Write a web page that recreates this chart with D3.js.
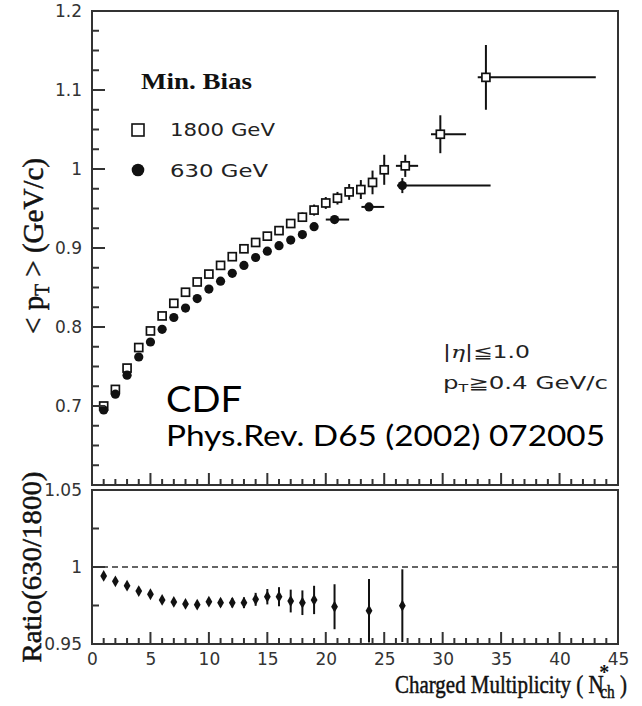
<!DOCTYPE html>
<html><head><meta charset="utf-8">
<script src="https://cdn.jsdelivr.net/npm/d3@7"></script>
<style>html,body{margin:0;padding:0;background:#fff;} svg{display:block}</style>
</head><body>
<svg id="c" width="642" height="706"></svg>
<script>
// ---------- data ----------
const nch1800 = [1,2,3,4,5,6,7,8,9,10,11,12,13,14,15,16,17,18,19,20,21,22,23,24,25,26.8,29.8,33.7];
const pt1800  = [0.700,0.721,0.748,0.774,0.795,0.814,0.830,0.844,0.857,0.867,0.878,0.889,0.899,0.907,0.915,0.922,0.931,0.939,0.948,0.957,0.963,0.971,0.974,0.983,0.999,1.004,1.044,1.116];
const err1800 = [0.001,0.001,0.001,0.001,0.001,0.001,0.001,0.001,0.002,0.002,0.002,0.002,0.002,0.003,0.003,0.004,0.005,0.006,0.007,0.0075,0.008,0.010,0.012,0.015,0.019,0.014,0.024,0.041];
const xlo1800 = [null,null,null,null,null,null,null,null,null,null,null,null,null,null,null,null,null,null,null,null,null,null,null,null,null,26.0,29.0,33.0];
const xhi1800 = [null,null,null,null,null,null,null,null,null,null,null,null,null,null,null,null,null,null,null,null,null,null,null,null,null,27.9,32.0,43.1];

const nch630 = [1,2,3,4,5,6,7,8,9,10,11,12,13,14,15,16,17,18,19,20.75,23.7,26.55];
const pt630  = [0.695,0.715,0.739,0.762,0.781,0.797,0.812,0.824,0.836,0.848,0.858,0.868,0.878,0.888,0.896,0.903,0.910,0.917,0.927,0.936,0.952,0.979];
const err630 = [0.001,0.001,0.001,0.001,0.001,0.001,0.001,0.001,0.001,0.001,0.001,0.001,0.002,0.002,0.002,0.002,0.002,0.003,0.003,0.004,0.005,0.0095];
const xlo630 = [null,null,null,null,null,null,null,null,null,null,null,null,null,null,null,null,null,null,null,20.0,23.05,26.1];
const xhi630 = [null,null,null,null,null,null,null,null,null,null,null,null,null,null,null,null,null,null,null,22.0,25.0,34.1];

const nchRatio = [1,2,3,4,5,6,7,8,9,10,11,12,13,14,15,16,17,18,19,20.75,23.7,26.55];
const ratio    = [0.9942,0.9907,0.9879,0.9844,0.9823,0.9786,0.9773,0.9760,0.9755,0.9775,0.9768,0.9768,0.9768,0.9790,0.9807,0.9807,0.9779,0.9768,0.9786,0.9742,0.9716,0.9749];
const ratioErr = [0.0005,0.0006,0.0007,0.0008,0.0009,0.0010,0.0012,0.0013,0.0015,0.0022,0.0025,0.0030,0.0035,0.0042,0.0050,0.0062,0.0074,0.0080,0.0092,0.0146,0.0206,0.0236];

const xTickVals = [0,5,10,15,20,25,30,35,40,45];
const xTickLabels = ["0","5","10","15","20","25","30","35","40","45"];
const xMinorVals = [1,2,3,4,6,7,8,9,11,12,13,14,16,17,18,19,21,22,23,24,26,27,28,29,31,32,33,34,36,37,38,39,41,42,43,44];
const yTopTickVals = [0.6,0.7,0.8,0.9,1.0,1.1,1.2];
const yTopTickLabels = ["","0.7","0.8","0.9","1","1.1","1.2"];
const yTopMinorVals = [0.625,0.65,0.675,0.725,0.75,0.775,0.825,0.85,0.875,0.925,0.95,0.975,1.025,1.05,1.075,1.125,1.15,1.175];
const yRatTickVals = [0.95,1.0,1.05];
const yRatTickLabels = ["0.95","1","1.05"];
const yRatMinorVals = [0.975,1.025];

// ---------- setup ----------
const svg = d3.select("#c");
const ink = "#333";
const x = d3.scaleLinear().domain([0,45]).range([92,618]);
const yTop = d3.scaleLinear().domain([0.6,1.2]).range([485,11]);
const yRat = d3.scaleLinear().domain([0.95,1.05]).range([644,490]);
const topBottom = 485, ratBottom = 644;

function labelAxis(g){
  g.select(".domain").remove();
  g.selectAll(".tick line").remove();
  g.selectAll("text").attr("font-family","DejaVu Sans").attr("font-size",17).attr("fill",ink);
}

// ---------- top panel marks ----------
const gTop = svg.append("g");
nch1800.forEach((n,i)=>{
  gTop.append("line").attr("x1",x(n)).attr("x2",x(n)).attr("y1",yTop(pt1800[i]-err1800[i])).attr("y2",yTop(pt1800[i]+err1800[i]))
    .attr("stroke","#111").attr("stroke-width",2);
  if(xlo1800[i]!==null){
    gTop.append("line").attr("x1",x(xlo1800[i])).attr("x2",x(xhi1800[i])).attr("y1",yTop(pt1800[i])).attr("y2",yTop(pt1800[i]))
      .attr("stroke","#111").attr("stroke-width",2);
  }
});
nch630.forEach((n,i)=>{
  gTop.append("line").attr("x1",x(n)).attr("x2",x(n)).attr("y1",yTop(pt630[i]-err630[i])).attr("y2",yTop(pt630[i]+err630[i]))
    .attr("stroke","#111").attr("stroke-width",2);
  if(xlo630[i]!==null){
    gTop.append("line").attr("x1",x(xlo630[i])).attr("x2",x(xhi630[i])).attr("y1",yTop(pt630[i])).attr("y2",yTop(pt630[i]))
      .attr("stroke","#111").attr("stroke-width",2);
  }
});
const sq = 8;
gTop.selectAll("rect.s").data(nch1800).join("rect").attr("class","s")
  .attr("x",d=>x(d)-sq/2).attr("y",(d,i)=>yTop(pt1800[i])-sq/2).attr("width",sq).attr("height",sq)
  .attr("fill","#fff").attr("stroke","#111").attr("stroke-width",1.7);
gTop.selectAll("circle.c").data(nch630).join("circle").attr("class","c")
  .attr("cx",d=>x(d)).attr("cy",(d,i)=>yTop(pt630[i])).attr("r",4.6).attr("fill","#111");

// ---------- ratio panel marks ----------
svg.append("line").attr("x1",x(0)).attr("x2",x(45)).attr("y1",yRat(1)).attr("y2",yRat(1))
  .attr("stroke",ink).attr("stroke-width",1.5).attr("stroke-dasharray","6,4");
const gRat = svg.append("g");
nchRatio.forEach((n,i)=>{
  gRat.append("line").attr("x1",x(n)).attr("x2",x(n)).attr("y1",yRat(ratio[i]-ratioErr[i])).attr("y2",yRat(ratio[i]+ratioErr[i]))
    .attr("stroke","#111").attr("stroke-width",2);
});
gRat.selectAll("path.d").data(nchRatio).join("path").attr("class","d")
  .attr("d",d3.symbol(d3.symbolDiamond, 40))
  .attr("transform",(d,i)=>`translate(${x(d)},${yRat(ratio[i])})`).attr("fill","#111");

// ---------- frames ----------
[[yTop.range()[1], yTop.range()[0]],[yRat.range()[1], yRat.range()[0]]].forEach(([t,b])=>{
  svg.append("rect").attr("x",x(0)).attr("y",t).attr("width",x(45)-x(0)).attr("height",b-t)
    .attr("fill","none").attr("stroke",ink).attr("stroke-width",2);
});

// ---------- tick marks ----------
const tickColor = "#333";
function vTick(xv, yPix, len){
  svg.append("line").attr("x1",x(xv)).attr("x2",x(xv)).attr("y1",yPix).attr("y2",yPix-len)
    .attr("stroke",tickColor).attr("stroke-width",2);
}
function hTick(scale, v, len){
  svg.append("line").attr("x1",x(0)).attr("x2",x(0)+len).attr("y1",scale(v)).attr("y2",scale(v))
    .attr("stroke",tickColor).attr("stroke-width",2);
}
[topBottom, ratBottom].forEach(yp=>{
  xMinorVals.forEach(v=>vTick(v, yp, 6));
  xTickVals.forEach(v=>vTick(v, yp, 12));
});
yTopMinorVals.forEach(v=>hTick(yTop, v, 7));
yTopTickVals.forEach(v=>hTick(yTop, v, 13));
yRatMinorVals.forEach(v=>hTick(yRat, v, 7));
yRatTickVals.forEach(v=>hTick(yRat, v, 13));

// ---------- tick labels ----------
svg.append("g").attr("transform",`translate(0,${ratBottom})`)
  .call(d3.axisBottom(x).tickValues(xTickVals).tickSize(0).tickPadding(9).tickFormat((d,i)=>xTickLabels[i]))
  .call(labelAxis);
svg.append("g").attr("transform",`translate(${x(0)},0)`)
  .call(d3.axisLeft(yTop).tickValues(yTopTickVals).tickSize(0).tickPadding(10).tickFormat((d,i)=>yTopTickLabels[i]))
  .call(labelAxis);
svg.append("g").attr("transform",`translate(${x(0)},0)`)
  .call(d3.axisLeft(yRat).tickValues(yRatTickVals).tickSize(0).tickPadding(10).tickFormat((d,i)=>yRatTickLabels[i]))
  .call(labelAxis);

// ---------- texts ----------
svg.append("text").attr("x",141).attr("y",89).attr("font-family","Liberation Serif").attr("font-weight","bold")
  .attr("font-size",24).attr("fill","#111").attr("textLength",111).attr("lengthAdjust","spacingAndGlyphs").text("Min. Bias");
svg.append("rect").attr("x",132).attr("y",124).attr("width",12).attr("height",12).attr("fill","#fff").attr("stroke","#111").attr("stroke-width",1.6);
svg.append("text").attr("x",170).attr("y",136).attr("font-family","DejaVu Sans").attr("font-size",17).attr("fill","#222")
  .attr("textLength",105).attr("lengthAdjust","spacingAndGlyphs").text("1800 GeV");
svg.append("circle").attr("cx",138).attr("cy",170).attr("r",6.3).attr("fill","#111");
svg.append("text").attr("x",170).attr("y",177).attr("font-family","DejaVu Sans").attr("font-size",17).attr("fill","#222")
  .attr("textLength",98).attr("lengthAdjust","spacingAndGlyphs").text("630 GeV");

svg.append("text").attr("x",166).attr("y",412).attr("font-family","Lato").attr("font-size",37).attr("fill","#000")
  .attr("textLength",76).attr("lengthAdjust","spacingAndGlyphs").text("CDF");
svg.append("text").attr("x",166).attr("y",446).attr("font-family","Lato").attr("font-size",29).attr("fill","#000")
  .attr("textLength",439).attr("lengthAdjust","spacingAndGlyphs").text("Phys.Rev. D65 (2002) 072005");

const eta = svg.append("text").attr("x",443).attr("y",358).attr("font-family","DejaVu Sans").attr("font-size",17).attr("fill","#222")
  .attr("textLength",87).attr("lengthAdjust","spacingAndGlyphs");
eta.append("tspan").text("|");
eta.append("tspan").attr("font-family","DejaVu Serif").attr("font-style","italic").text("η");
eta.append("tspan").text("|≦1.0");
const ptc = svg.append("text").attr("x",443).attr("y",389).attr("font-family","DejaVu Sans").attr("font-size",17).attr("fill","#222")
  .attr("textLength",165).attr("lengthAdjust","spacingAndGlyphs");
ptc.append("tspan").text("p");
ptc.append("tspan").attr("font-size",11).attr("dy",3).text("T");
ptc.append("tspan").attr("dy",-3).text("≧0.4 GeV/c");

const yl = svg.append("text").attr("transform","translate(43,246) rotate(-90)").attr("text-anchor","middle")
  .attr("font-family","Liberation Serif").attr("font-size",30).attr("fill","#111")
  .attr("stroke","#111").attr("stroke-width",0.5)
  .attr("textLength",176).attr("lengthAdjust","spacingAndGlyphs");
yl.append("tspan").text("< p");
yl.append("tspan").attr("font-size",20).attr("dy",6).text("T");
yl.append("tspan").attr("dy",-6).text(" > (GeV/c)");

svg.append("text").attr("transform","translate(41,567) rotate(-90)").attr("text-anchor","middle")
  .attr("font-family","Liberation Serif").attr("font-size",27).attr("fill","#111")
  .attr("stroke","#111").attr("stroke-width",0.5)
  .attr("textLength",191).attr("lengthAdjust","spacingAndGlyphs").text("Ratio(630/1800)");

const pre = "Charged Multiplicity ( N";
const xl = svg.append("text").attr("x",395).attr("y",693).attr("font-family","Liberation Serif").attr("font-size",26)
  .attr("fill","#111").attr("stroke","#111").attr("stroke-width",0.5)
  .attr("textLength",232).attr("lengthAdjust","spacingAndGlyphs");
xl.append("tspan").text(pre);
xl.append("tspan").attr("font-size",19).attr("dy",5).attr("dx",-4).text("ch");
xl.append("tspan").attr("dy",-5).text(" )");
let starX = 597;
try {
  const a = xl.node().getExtentOfChar(pre.length);
  starX = a.x + 4;
} catch(e){}
svg.append("text").attr("x",starX).attr("y",679).attr("text-anchor","middle").attr("font-family","Liberation Serif")
  .attr("font-size",20).attr("font-weight","bold").attr("fill","#111").text("*");
</script>
</body></html>
